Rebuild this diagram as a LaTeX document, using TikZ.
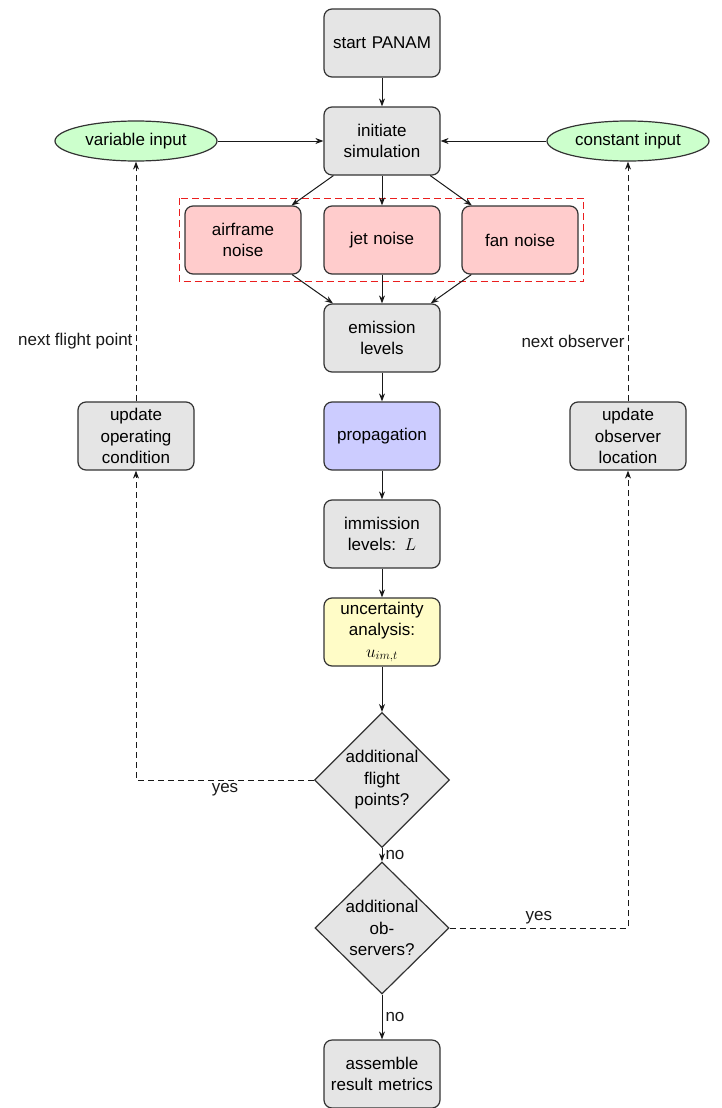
\documentclass[tikz,border=0pt]{standalone}
\usepackage{fontspec}
\setmainfont{Liberation Sans}
\usetikzlibrary{shapes.geometric,arrows.meta,fit}
\definecolor{grpred}{RGB}{235,30,30}
\begin{document}
\begin{tikzpicture}[x=1pt,y=-1pt,
  every node/.style={font=\fontsize{17}{21.5}\selectfont},
  box/.style={draw=black!80, line width=1.2pt, rounded corners=8pt, fill=black!10,
    minimum width=116pt, minimum height=68pt, text width=106pt, align=center, inner sep=0pt},
  inputnode/.style={ellipse, draw=black!80, line width=1.2pt, fill=green!20,
    minimum width=162pt, minimum height=40pt, inner sep=0pt},
  dec/.style={diamond, draw=black!80, line width=1.2pt, fill=black!10,
    text width=76pt, align=center, inner sep=0pt, minimum width=134pt, minimum height=132pt},
  arr/.style={-{Stealth[length=8pt,width=6pt]}, line width=1pt, black!90},
  darr/.style={arr, dash pattern=on 6pt off 4pt},
  lbl/.style={inner sep=3pt},
  groupbox/.style={draw=grpred, line width=1.2pt, dash pattern=on 7pt off 4pt}
]
\useasboundingbox (0,0) rectangle (721,1108);

\node[box] (start) at (382,43) {start PANAM};
\node[box] (init) at (382,141) {initiate\\simulation};
\node[inputnode] (var) at (136,141) {variable input};
\node[inputnode] (const) at (628,141) {constant input};
\node[box, fill=red!20] (air) at (243,240) {airframe\\noise};
\node[box, fill=red!20] (jet) at (382,240) {jet noise};
\node[box, fill=red!20] (fan) at (520,240) {fan noise};
\node[fit=(air)(jet)(fan), inner xsep=5pt, inner ysep=7pt] (noisegroup) {};
\draw[groupbox] (noisegroup.north west) rectangle (noisegroup.south east);
\node[box] (emis) at (382,338) {emission\\levels};
\node[box, fill=blue!20] (prop) at (382,436) {propagation};
\node[box] (imm) at (382,534) {immission\\levels: $L$};
\node[box, fill=yellow!22] (unc) at (382,632) {uncertainty\\analysis:\\$u_{im,t}$};
\node[dec] (d1) at (382,780) {additional\\flight\\points?};
\node[dec] (d2) at (382,928) {additional\\ob-\\servers?};
\node[box] (asm) at (382,1074) {assemble\\result metrics};
\node[box] (uoc) at (136,436) {update\\operating\\condition};
\node[box] (uol) at (628,436) {update\\observer\\location};

\draw[arr] (start) -- (init);
\draw[arr] (var) -- (init);
\draw[arr] (const) -- (init);
\draw[arr] (init) -- (air);
\draw[arr] (init) -- (jet);
\draw[arr] (init) -- (fan);
\draw[arr] (air) -- (emis);
\draw[arr] (jet) -- (emis);
\draw[arr] (fan) -- (emis);
\draw[arr] (emis) -- (prop);
\draw[arr] (prop) -- (imm);
\draw[arr] (imm) -- (unc);
\draw[arr] (unc) -- (d1);
\draw[arr] (d1) -- node[right, lbl] {no} (d2);
\draw[arr] (d2) -- node[right, lbl] {no} (asm);
\draw[darr] (d1.west) -| node[pos=0.25, below, lbl] {yes} (uoc.south);
\draw[darr] (uoc) -- node[pos=0.25, left, lbl] {next flight point} (var);
\draw[darr] (d2.east) -| node[pos=0.25, above, lbl] {yes} (uol.south);
\draw[darr] (uol) -- node[pos=0.25, left, lbl] {next observer} (const);
\end{tikzpicture}
\end{document}
